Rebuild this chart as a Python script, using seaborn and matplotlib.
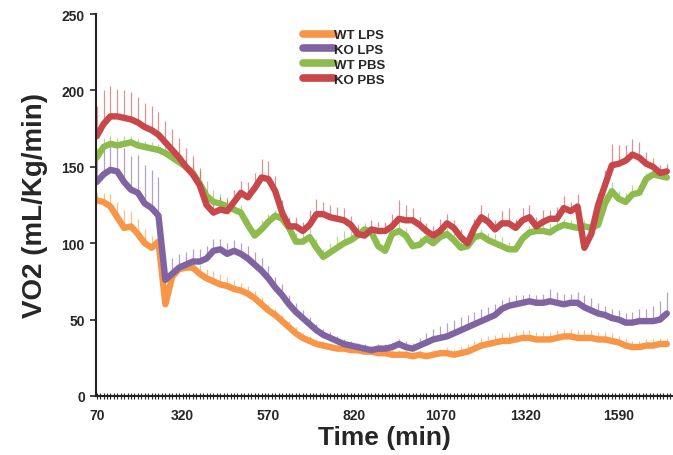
import numpy as np
import pandas as pd
import matplotlib
matplotlib.use("Agg")
import matplotlib.pyplot as plt
import seaborn as sns

# sampling every 20 min starting at 70 min
time = np.arange(70, 1750, 20)

wt_lps = [128, 127, 124, 117, 110, 111, 106, 100, 97, 101,
          60, 78, 83, 84, 84, 80, 77, 75, 73, 72,
          70, 69, 67, 64, 60, 56, 53, 49, 45, 41,
          38, 36, 34, 33, 32, 31, 31, 30, 30, 29,
          29, 28, 28, 27, 27, 27, 26, 27, 26, 27,
          28, 28, 27, 28, 29, 31, 33, 34, 35, 36,
          36, 37, 38, 38, 37, 37, 37, 38, 39, 39,
          38, 38, 38, 37, 37, 36, 35, 33, 32, 32,
          33, 33, 34, 34]
ko_lps = [140, 145, 148, 147, 140, 135, 133, 126, 123, 118,
          76, 80, 84, 86, 88, 88, 90, 95, 96, 93,
          95, 93, 90, 86, 82, 77, 71, 66, 60, 55,
          51, 47, 43, 40, 38, 36, 34, 33, 32, 31,
          30, 31, 31, 32, 34, 32, 31, 33, 35, 37,
          38, 39, 41, 43, 45, 47, 49, 51, 53, 57,
          59, 60, 61, 62, 61, 61, 62, 61, 60, 61,
          61, 58, 56, 54, 53, 51, 50, 48, 48, 49,
          49, 49, 50, 54]
wt_pbs = [156, 163, 165, 164, 165, 166, 164, 163, 162, 161,
          159, 156, 153, 150, 146, 139, 131, 127, 126, 124,
          122, 120, 112, 105, 109, 114, 118, 116, 110, 101,
          101, 104, 97, 91, 94, 97, 100, 102, 105, 109,
          107, 98, 95, 106, 108, 105, 98, 99, 103, 100,
          104, 106, 102, 97, 98, 104, 105, 102, 100, 98,
          96, 96, 103, 107, 108, 108, 107, 110, 112, 111,
          110, 111, 110, 112, 126, 134, 129, 127, 132, 133,
          142, 145, 144, 143]
ko_pbs = [170, 178, 183, 183, 182, 181, 179, 176, 174, 171,
          166, 161, 156, 150, 145, 138, 125, 120, 122, 121,
          127, 133, 130, 136, 143, 142, 134, 120, 111, 111,
          108, 112, 119, 119, 117, 116, 115, 112, 106, 105,
          109, 108, 108, 111, 116, 115, 115, 112, 108, 105,
          108, 113, 110, 104, 100, 110, 117, 114, 109, 113,
          113, 110, 115, 117, 111, 114, 116, 116, 123, 121,
          124, 97, 106, 125, 138, 151, 152, 154, 158, 156,
          152, 150, 146, 147]

wt_lps_err = [5, 6, 8, 10, 12, 10, 10, 9, 8, 7,
              5, 5, 5, 5, 6, 6, 6, 7, 7, 6,
              6, 5, 5, 5, 5, 4, 4, 4, 4, 4,
              3, 3, 3, 3, 3, 3, 3, 3, 3, 3,
              3, 3, 3, 3, 3, 3, 3, 3, 3, 3,
              3, 4, 4, 4, 5, 5, 5, 5, 5, 5,
              5, 5, 5, 5, 5, 5, 5, 5, 5, 5,
              5, 5, 5, 5, 5, 5, 4, 4, 4, 4,
              4, 4, 4, 4]
ko_lps_err = [15, 18, 18, 20, 22, 22, 25, 25, 25, 25,
              10, 10, 9, 8, 8, 8, 8, 8, 7, 7,
              7, 7, 8, 8, 8, 8, 7, 7, 6, 6,
              5, 5, 4, 4, 4, 3, 3, 3, 3, 3,
              3, 3, 3, 3, 3, 4, 4, 5, 6, 7,
              8, 9, 9, 9, 8, 8, 8, 7, 7, 6,
              6, 6, 5, 5, 5, 6, 8, 7, 7, 6,
              7, 8, 8, 7, 6, 6, 6, 6, 7, 8,
              8, 10, 12, 14]
wt_pbs_err = [6, 6, 5, 5, 5, 4, 4, 4, 4, 4,
              4, 4, 5, 5, 5, 8, 10, 8, 6, 6,
              5, 5, 4, 4, 6, 5, 4, 4, 5, 6,
              8, 6, 6, 5, 6, 8, 8, 6, 5, 4,
              4, 4, 5, 6, 6, 5, 4, 5, 6, 6,
              4, 4, 5, 6, 6, 4, 4, 5, 6, 6,
              5, 4, 4, 4, 5, 5, 6, 5, 4, 4,
              4, 4, 5, 5, 6, 6, 5, 6, 6, 5,
              4, 4, 3, 3]
ko_pbs_err = [20, 22, 20, 18, 18, 18, 17, 16, 16, 15,
              14, 14, 13, 12, 12, 11, 10, 8, 8, 8,
              8, 8, 10, 10, 12, 12, 10, 8, 6, 6,
              6, 10, 10, 8, 8, 8, 8, 6, 6, 5,
              6, 6, 6, 8, 12, 10, 8, 5, 5, 6,
              8, 6, 5, 5, 5, 6, 8, 6, 6, 8,
              10, 6, 8, 8, 6, 8, 6, 8, 8, 6,
              8, 4, 6, 8, 10, 14, 12, 10, 10, 10,
              8, 6, 5, 5]

groups = ["WT LPS", "KO LPS", "WT PBS", "KO PBS"]
colors = {"WT LPS": "#F79646", "KO LPS": "#8064A2",
          "WT PBS": "#8DBB4E", "KO PBS": "#C8474A"}
values = {"WT LPS": wt_lps, "KO LPS": ko_lps, "WT PBS": wt_pbs, "KO PBS": ko_pbs}
errors = {"WT LPS": wt_lps_err, "KO LPS": ko_lps_err,
          "WT PBS": wt_pbs_err, "KO PBS": ko_pbs_err}

df = pd.concat([pd.DataFrame({"Time": time, "VO2": values[g], "Group": g}) for g in groups],
               ignore_index=True)

sns.set_style("white")
plt.rcParams['font.family'] = ['Liberation Sans', 'DejaVu Sans']

fig = plt.figure(figsize=(6.73, 4.56), dpi=100)
ax = fig.add_axes([0.1426, 0.1294, 0.8574, 0.8377])

# upper error bars behind the lines
for g in groups:
    ax.errorbar(time, values[g], yerr=[np.zeros(len(time)), errors[g]], fmt="none",
                ecolor=colors[g], elinewidth=0.9, alpha=0.6, capsize=0, zorder=1)

sns.lineplot(data=df, x="Time", y="VO2", hue="Group", hue_order=groups, palette=colors,
             linewidth=4.6, errorbar=None, sort=False, ax=ax, zorder=2,
             solid_capstyle="round", solid_joinstyle="round")

ax.set_xlim(68, 1748)
ax.set_ylim(0, 250)
ax.set_yticks([0, 50, 100, 150, 200, 250])
ax.set_xticks([70, 320, 570, 820, 1070, 1320, 1590])
ax.set_xticks(np.arange(70, 1750, 10), minor=True)
ax.tick_params(axis="y", direction="out", length=4, width=1.2, pad=4, labelsize=10, left=True)
ax.tick_params(axis="x", which="both", direction="inout", length=5, width=0.8, pad=6,
               labelsize=10, bottom=True)
for lab in ax.get_xticklabels() + ax.get_yticklabels():
    lab.set_fontweight("bold")

for s in ["top", "right"]:
    ax.spines[s].set_visible(False)
for s in ["left", "bottom"]:
    ax.spines[s].set_color("#222222")
    ax.spines[s].set_linewidth(1.5)

ax.set_xlabel("Time (min)", fontsize=19, fontweight="bold", labelpad=2)
ax.set_ylabel("VO2 (mL/Kg/min)", fontsize=20, fontweight="bold", labelpad=10)

leg = ax.legend(loc="upper center", bbox_to_anchor=(0.43, 0.985), frameon=False,
                prop={"weight": "bold", "size": 9.5}, handlelength=2.3, handletextpad=0.0,
                labelspacing=0.2, borderaxespad=0.3)
for line in leg.get_lines():
    line.set_linewidth(5.5)
    line.set_solid_capstyle("round")

fig.savefig("out.png", dpi=100)
